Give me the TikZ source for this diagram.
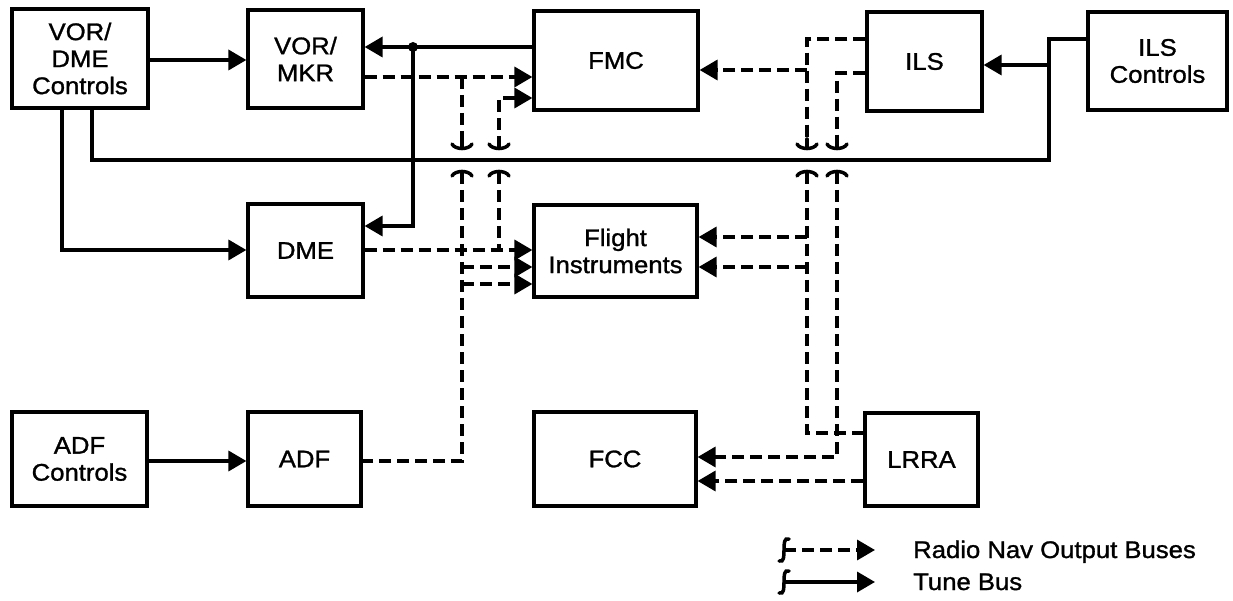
\documentclass[tikz,border=0pt]{standalone}
\usepackage{fontspec}
\setmainfont{Liberation Sans}[FakeStretch=1.07,FakeBold=1.2]
\usetikzlibrary{arrows.meta}
\begin{document}
\begin{tikzpicture}[x=1pt,y=-1pt,
  box/.style={draw, line width=3.2pt, inner sep=0pt, align=center, font=\fontsize{24}{27}\selectfont},
  tune/.style={line width=3.5pt},
  nav/.style={line width=3.5pt, dash pattern=on 12pt off 6pt},
  tip/.style={-{Triangle[length=18pt,width=20pt]}},
  curl/.style={line width=3.5pt, line cap=round},
  legtext/.style={anchor=base west, inner sep=0pt, font=\fontsize{24}{27}\selectfont},
  jup/.pic={\draw[curl] (-10,-4) .. controls (-7,2) and (7,2) .. (10,-4); \draw[curl] (0,0.5) -- (0,-9);},
  jdn/.pic={\draw[curl] (-10,4) .. controls (-7,-2) and (7,-2) .. (10,4); \draw[curl] (0,-0.5) -- (0,9);},
  lcurl/.pic={\draw[curl] (5,-11) .. controls (0,-13) and (0,-6) .. (0,0) .. controls (0,6) and (0,13) .. (-5,11);}]
\useasboundingbox (0,0) rectangle (1233,601);

% boxes
\node[box, minimum width=136pt, minimum height=99pt] (vdc) at (80,58.5) {VOR/\\DME\\Controls};
\node[box, minimum width=115pt, minimum height=98pt] (vmkr) at (305.5,59) {VOR/\\MKR};
\node[box, minimum width=164pt, minimum height=99pt] (fmc) at (616,60.5) {FMC};
\node[box, minimum width=115pt, minimum height=99pt] (ils) at (924.5,61.5) {ILS};
\node[box, minimum width=139pt, minimum height=98pt] (ilsc) at (1157.5,61) {ILS\\Controls};
\node[box, minimum width=115pt, minimum height=93pt] (dme) at (305.5,250.5) {DME};
\node[box, minimum width=163pt, minimum height=92pt] (fi) at (615.5,251) {Flight\\Instruments};
\node[box, minimum width=135pt, minimum height=94pt] (adfc) at (79.5,459) {ADF\\Controls};
\node[box, minimum width=113pt, minimum height=94pt] (adf) at (304.5,459) {ADF};
\node[box, minimum width=162pt, minimum height=94pt] (fcc) at (615,459) {FCC};
\node[box, minimum width=113pt, minimum height=93pt] (lrra) at (921.5,459.5) {LRRA};

% tune bus coordinates
\coordinate (t0) at (0,60);
\coordinate (j1) at (413,47);
\coordinate (t1) at (413,226);
\coordinate (t2) at (62,250);
\coordinate (b1) at (1049,39);
\coordinate (b2) at (1049,160);
\coordinate (b3) at (92,160);
\coordinate (b4) at (1049,65);
\coordinate (t3) at (0,461);

% tune bus
\draw[tune,tip] (vdc.east |- t0) -- (vmkr.west |- t0);
\draw[tune] (fmc.west |- j1) -- (j1);
\draw[tune,tip] (j1) -- (vmkr.east |- j1);
\draw[tune,tip] (j1) -- (t1) -- (dme.east |- t1);
\fill (j1) circle (5);
\draw[tune,tip] (vdc.south -| t2) -- (t2) -- (dme.west |- t2);
\draw[tune] (ilsc.west |- b1) -- (b1) -- (b2) -- (b3) -- (vdc.south -| b3);
\draw[tune,tip] (b4) -- (ils.east |- b4);
\draw[tune,tip] (adfc.east |- t3) -- (adf.west |- t3);

% radio nav coordinates
\coordinate (a0) at (462,77);
\coordinate (a1) at (462,148);
\coordinate (a2) at (462,172);
\coordinate (a3) at (462,461);
\coordinate (a4) at (462,267);
\coordinate (a5) at (462,284);
\coordinate (d0) at (0,250);
\coordinate (e0) at (499,98);
\coordinate (e1) at (499,148);
\coordinate (e2) at (499,172);
\coordinate (e3) at (499,250);
\coordinate (f0) at (807,39);
\coordinate (f1) at (807,148);
\coordinate (f2) at (807,172);
\coordinate (f3) at (807,433);
\coordinate (f4) at (807,70);
\coordinate (f5) at (807,237);
\coordinate (f6) at (807,267);
\coordinate (g0) at (837,73);
\coordinate (g1) at (837,148);
\coordinate (g2) at (837,172);
\coordinate (g3) at (837,457);
\coordinate (h0) at (0,481);

% radio nav buses
\draw[nav,tip] (vmkr.east |- a0) -- (fmc.west |- a0);
\draw[nav] (a0) -- (a1);
\draw[nav] (a2) -- (a3) -- (adf.east |- a3);
\draw[nav,tip] (a4) -- (fi.west |- a4);
\draw[nav,tip] (a5) -- (fi.west |- a5);
\draw[nav,tip] (dme.east |- d0) -- (fi.west |- d0);
\draw[nav,tip] (e1) -- (e0) -- (fmc.west |- e0);
\draw[nav] (e2) -- (e3);
\draw[nav] (ils.west |- f0) -- (f0) -- (f1);
\draw[nav] (f2) -- (f3) -- (lrra.west |- f3);
\draw[nav,tip] (f4) -- (fmc.east |- f4);
\draw[nav,tip] (f5) -- (fi.east |- f5);
\draw[nav,tip] (f6) -- (fi.east |- f6);
\draw[nav] (ils.west |- g0) -- (g0) -- (g1);
\draw[nav,tip] (g2) -- (g3) -- (fcc.east |- g3);
\draw[nav,tip] (lrra.west |- h0) -- (fcc.east |- h0);

% jumps
\foreach \p in {a1,e1,f1,g1} \pic at (\p) {jup};
\foreach \p in {a2,e2,f2,g2} \pic at (\p) {jdn};

% legend
\coordinate (l1a) at (784,550);
\coordinate (l1b) at (875,550);
\coordinate (l2a) at (784,582);
\coordinate (l2b) at (875,582);
\draw[nav,tip] (l1a) -- (l1b);
\pic at (l1a) {lcurl};
\draw[tune,tip] (l2a) -- (l2b);
\pic at (l2a) {lcurl};
\node[legtext] (lt1) at (913,558) {Radio Nav Output Buses};
\node[legtext] (lt2) at (913,590) {Tune Bus};
\end{tikzpicture}
\end{document}
